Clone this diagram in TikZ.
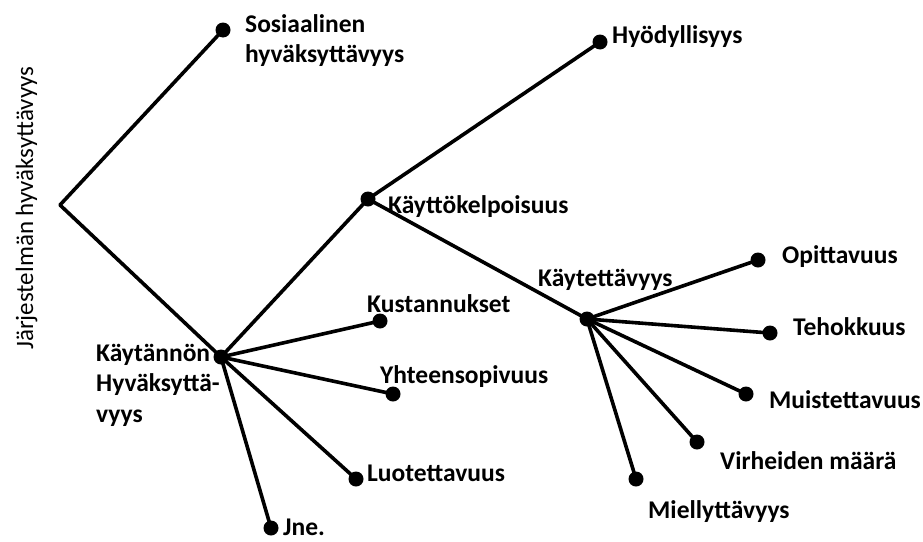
\documentclass[tikz,border=0pt]{standalone}
\usepackage{fontspec}
\setmainfont{Carlito}
\begin{document}
\begin{tikzpicture}[x=1pt,y=-1pt,
  branch/.style={line width=3.6pt,line cap=round,line join=round},
  leaf/.style={circle,fill=black,inner sep=0pt,minimum size=15pt},
  lbl/.style={anchor=base west,inner sep=0pt,font=\bfseries\fontsize{25.5}{30}\selectfont},
  axis/.style={anchor=base west,inner sep=0pt,rotate=90,font=\fontsize{25}{30}\selectfont}]
\useasboundingbox (0,0) rectangle (923,541);

% tree points
\coordinate (root) at (60,205);
\node[leaf] (sos) at (223,30) {};
\node[leaf] (kaytannon) at (221,357) {};
\node[leaf] (kelpo) at (368,199) {};
\node[leaf] (hyod) at (600,42) {};
\node[leaf] (kaytet) at (587,319) {};
\node[leaf] (opit) at (758,260) {};
\node[leaf] (teho) at (770,333) {};
\node[leaf] (muist) at (746,394) {};
\node[leaf] (virhe) at (697,442) {};
\node[leaf] (miell) at (636,479) {};
\node[leaf] (kust) at (380,321) {};
\node[leaf] (yht) at (393,394) {};
\node[leaf] (luot) at (356,479) {};
\node[leaf] (jne) at (271,528) {};

% branches
\draw[branch] (sos.center) -- (root) -- (kaytannon.center);
\draw[branch] (kaytannon.center) -- (kelpo.center) -- (hyod.center);
\draw[branch] (kelpo.center) -- (kaytet.center);
\foreach \t in {opit,teho,muist,virhe,miell}
  \draw[branch] (kaytet.center) -- (\t.center);
\foreach \t in {kust,yht,luot,jne}
  \draw[branch] (kaytannon.center) -- (\t.center);

% labels
\node[axis] (tAxis) at (33,350) {Järjestelmän hyväksyttävyys};
\node[lbl] (tSos1) at (245,32) {Sosiaalinen};
\node[lbl] (tSos2) at (245,62) {hyväksyttävyys};
\node[lbl] (tKay1) at (96,361) {Käytännön};
\node[lbl] (tKay2) at (96,391) {Hyväksyttä-};
\node[lbl] (tKay3) at (96,422) {vyys};
\node[lbl] (tKelpo) at (388,213) {Käyttökelpoisuus};
\node[lbl] (tHyod) at (612,43) {Hyödyllisyys};
\node[lbl] (tKaytet) at (538,286) {Käytettävyys};
\node[lbl] (tOpit) at (782,263) {Opittavuus};
\node[lbl] (tTeho) at (793,335) {Tehokkuus};
\node[lbl] (tMuist) at (769,408) {Muistettavuus};
\node[lbl] (tVirhe) at (720,469) {Virheiden määrä};
\node[lbl] (tMiell) at (648,518) {Miellyttävyys};
\node[lbl] (tKust) at (367,312) {Kustannukset};
\node[lbl] (tYht) at (380,383) {Yhteensopivuus};
\node[lbl] (tLuot) at (367,481) {Luotettavuus};
\node[lbl] (tJne) at (283,535) {Jne.};
\end{tikzpicture}
\end{document}
